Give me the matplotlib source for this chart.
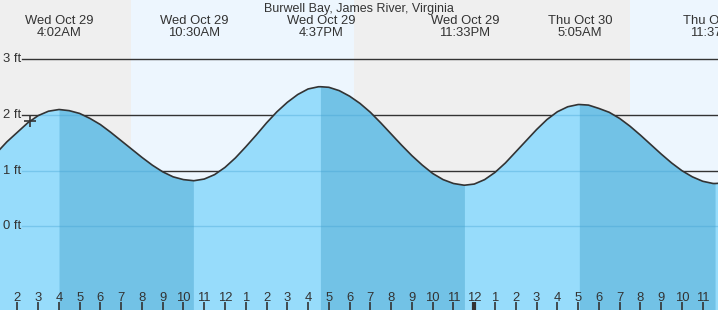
import numpy as np
import matplotlib
matplotlib.use('Agg')
import matplotlib.pyplot as plt

plt.rcParams['font.family'] = ['Liberation Sans', 'DejaVu Sans']

title = 'Burwell Bay, James River, Virginia'

# tide height (ft) every half hour, hours counted from midnight Wed Oct 29
half_t = [1 + 0.5 * i for i in range(71)]
half_h = [1.32, 1.52, 1.69, 1.86, 1.99, 2.07, 2.10, 2.08, 2.03, 1.94,
          1.83, 1.69, 1.54, 1.39, 1.24, 1.10, 0.98, 0.89, 0.84, 0.82,
          0.85, 0.93, 1.06, 1.23, 1.43, 1.64, 1.86, 2.06, 2.23, 2.37,
          2.47, 2.51, 2.50, 2.44, 2.34, 2.21, 2.05, 1.86, 1.66, 1.46,
          1.27, 1.10, 0.95, 0.84, 0.77, 0.74, 0.76, 0.84, 0.97, 1.14,
          1.34, 1.54, 1.74, 1.92, 2.06, 2.15, 2.19, 2.18, 2.12, 2.05,
          1.94, 1.80, 1.64, 1.47, 1.30, 1.14, 1.00, 0.89, 0.81, 0.77,
          0.78]

# high / low tides
ext_t = [4.033, 10.5, 16.617, 23.55, 29.083, 35.617]
ext_h = [2.10, 0.82, 2.51, 0.74, 2.19, 0.77]
ext_day = ['Wed Oct 29', 'Wed Oct 29', 'Wed Oct 29', 'Wed Oct 29', 'Thu Oct 30', 'Thu Oct 30']
ext_time = ['4:02AM', '10:30AM', '4:37PM', '11:33PM', '5:05AM', '11:37AM']

# daylight (sunrise, sunset)
day_spans = [(7.47, 18.21), (31.5, 42.0)]

# current time marker
now_t, now_h = 2.61, 1.89

tick_hours = list(range(2, 36))
tick_labels = [str(h % 12 if h % 12 else 12) for h in tick_hours]

y_levels = [0, 1, 2, 3]

x_min, x_max = 1.167, 35.735
y_min, y_max = -1.505, 4.07

light = '#97dcfb'
dark = '#72c2e6'
night = '#efefef'
daycol = '#edf6fe'
ink = '#333333'

pts = dict(zip(half_t, half_h))
pts.update(zip(ext_t, ext_h))
t = np.array(sorted(pts))
h = np.array([pts[k] for k in t])

fig = plt.figure(figsize=(7.18, 3.10), dpi=100)
ax = fig.add_axes([0, 0, 1, 1])
ax.set_xlim(x_min, x_max)
ax.set_ylim(y_min, y_max)
ax.set_facecolor(night)
for s in ax.spines.values():
    s.set_visible(False)

for a, b in day_spans:
    ax.axvspan(a, b, color=daycol, zorder=0, lw=0)

for y in y_levels:
    ax.axhline(y, xmin=22 / 718, color=ink, lw=1.0, zorder=0.5)

poly = ax.fill_between(t, h, y_min, color=light, lw=0, zorder=1)
falling = np.zeros_like(t, dtype=bool)
for i in range(len(ext_t) - 1):
    if ext_h[i] > ext_h[i + 1]:
        falling |= (t >= ext_t[i]) & (t <= ext_t[i + 1])
ax.fill_between(t, h, y_min, where=falling, color=dark, lw=0, zorder=1.1)

# faint grid lines under the water
clip = poly.get_paths()[0]
for y in y_levels:
    ln = ax.axhline(y, xmin=22 / 718, color='#3d9fd0', alpha=0.35, lw=1.0, zorder=1.2)
    ln.set_clip_path(clip, ax.transData)

ax.plot(t, h, color=ink, lw=1.2, zorder=3)
ax.plot([now_t], [now_h], marker='+', ms=9, mew=1.2, color=ink, zorder=4)

for y in y_levels:
    ax.text(2.7 / 718, y, '%d ft' % y, transform=ax.get_yaxis_transform(),
            ha='left', va='center', fontsize=9.4, color=ink)

for et, d, tm in zip(ext_t, ext_day, ext_time):
    ax.text(et, 1 - 24.3 / 310, d, transform=ax.get_xaxis_transform(),
            ha='center', va='baseline', fontsize=9.4, color=ink)
    ax.text(et, 1 - 35.7 / 310, tm, transform=ax.get_xaxis_transform(),
            ha='center', va='baseline', fontsize=9.4, color=ink)

ax.text(0.5, 1 - 12 / 310, title, transform=ax.transAxes, ha='center',
        va='baseline', fontsize=9.0, color=ink)

ax.set_yticks([])
ax.set_xticks(tick_hours)
ax.set_xticklabels(tick_labels)
ax.tick_params(axis='x', direction='in', length=6, width=1.2, color=ink,
               pad=-13, labelsize=9.4, labelcolor=ink)
ax.set_axisbelow(False)
for tk, hr in zip(ax.xaxis.get_major_ticks(), tick_hours):
    if hr == 24:
        tk.tick1line.set_markeredgewidth(3)

fig.savefig('out.png', dpi=100)
